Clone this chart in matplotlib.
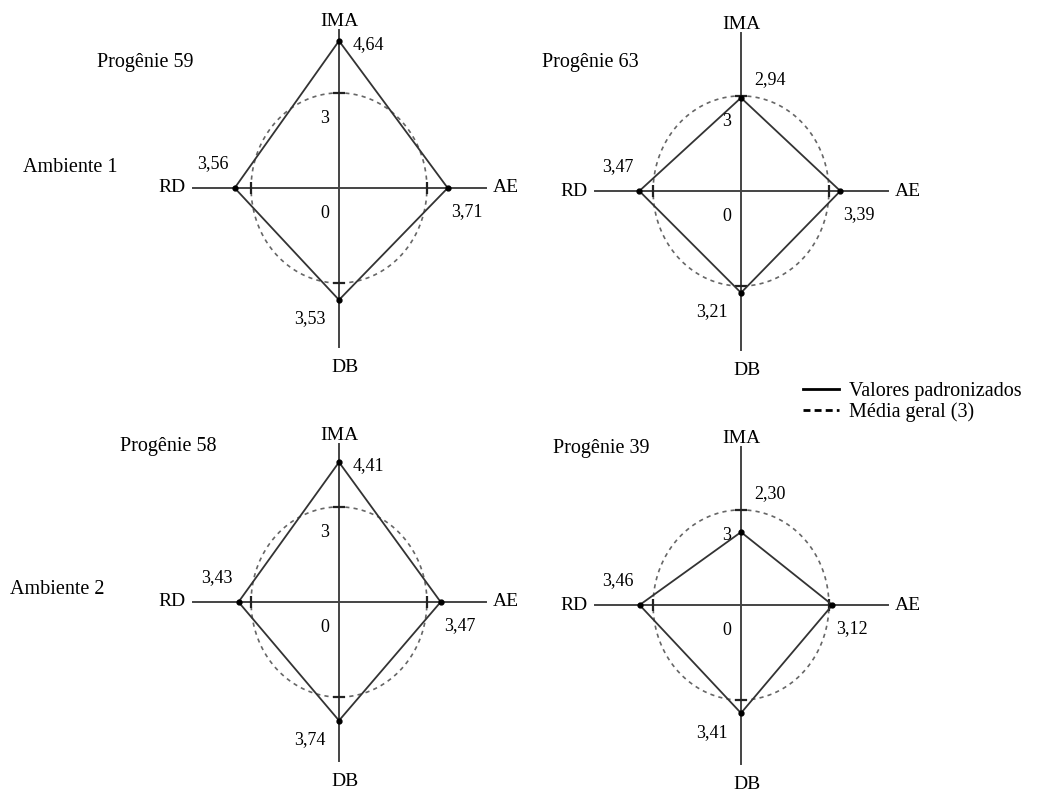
import numpy as np
import matplotlib
matplotlib.use('Agg')
import matplotlib.pyplot as plt
from matplotlib.lines import Line2D

plt.rcParams['font.family'] = ['Liberation Serif', 'DejaVu Serif']

# standardized values per progeny (IMA, AE, DB, RD)
progenies = ['Progênie 59', 'Progênie 63', 'Progênie 58', 'Progênie 39']
ambientes = ['Ambiente 1', 'Ambiente 2']
traits = ['IMA', 'AE', 'DB', 'RD']
ima = [4.64, 2.94, 4.41, 2.30]
ae = [3.71, 3.39, 3.47, 3.12]
db = [3.53, 3.21, 3.74, 3.41]
rd = [3.56, 3.47, 3.43, 3.46]
media = 3

W, H = 1040, 792
sx, sy = 29.3, 31.7          # pixels per unit
centers = [(339, 188), (741, 191), (339, 602), (741, 605)]
title_px = [(97, 62), (542, 63), (120, 446), (553, 448)]
amb_px = [(23, 167), (10, 589)]


def fmt(v):
    return ('%.2f' % v).replace('.', ',')


fig = plt.figure(figsize=(W / 100, H / 100), dpi=100)

for i in range(4):
    cx, cy = centers[i]
    w, h = 12 * sx, 12 * sy
    ax = fig.add_axes([(cx - w / 2) / W, (H - cy - h / 2) / H, w / W, h / H])
    ax.set_xlim(-6, 6)
    ax.set_ylim(-6, 6)
    ax.axis('off')

    # axes cross
    ax.plot([-5, 5], [0, 0], color='#444444', lw=1.4)
    ax.plot([0, 0], [-5, 5], color='#444444', lw=1.4)

    # mean circle
    t = np.linspace(0, 2 * np.pi, 300)
    ax.plot(media * np.cos(t), media * np.sin(t), color='#666666', lw=1.2,
            ls=(0, (2.5, 2.5)))
    ax.plot([0, 0], [media, -media], ls='none', marker='_', ms=9, mew=1.6, color='#222222')
    ax.plot([media, -media], [0, 0], ls='none', marker='|', ms=9, mew=1.6, color='#222222')

    # standardized values polygon
    xs = [0, ae[i], 0, -rd[i], 0]
    ys = [ima[i], 0, -db[i], 0, ima[i]]
    ax.plot(xs, ys, color='#333333', lw=1.3)
    ax.plot(xs[:4], ys[:4], 'o', ms=3.5, color='black')

    # axis names
    ax.text(0, 5.25, 'IMA', ha='center', va='center', fontsize=14)
    ax.text(0.2, -5.65, 'DB', ha='center', va='center', fontsize=14)
    ax.text(-5.7, 0, 'RD', ha='center', va='center', fontsize=14)
    ax.text(5.7, 0, 'AE', ha='center', va='center', fontsize=14)
    ax.text(-0.5, 2.2, '3', ha='center', va='center', fontsize=13)
    ax.text(-0.5, -0.82, '0', ha='center', va='center', fontsize=13)

    # value labels
    ax.text(1.0, max(ima[i], 3.62) - 0.12, fmt(ima[i]), ha='center', va='center', fontsize=13)
    ax.text(ae[i] + 0.65, -0.75, fmt(ae[i]), ha='center', va='center', fontsize=13)
    ax.text(-1.0, -db[i] - 0.6, fmt(db[i]), ha='center', va='center', fontsize=13)
    ax.text(-rd[i] - 0.75, 0.77, fmt(rd[i]), ha='center', va='center', fontsize=13)

    tx, ty = title_px[i]
    fig.text(tx / W, 1 - ty / H, progenies[i], ha='left', va='center', fontsize=14.5)

for j, (ax_, ay_) in enumerate(amb_px):
    fig.text(ax_ / W, 1 - ay_ / H, ambientes[j], ha='left', va='center', fontsize=14.5)

handles = [Line2D([], [], color='black', lw=2),
           Line2D([], [], color='black', lw=2, ls=(0, (2.5, 1.5)))]
fig.legend(handles, ['Valores padronizados', 'Média geral (3)'], loc='upper left',
           bbox_to_anchor=(793 / W, 1 - 372 / H), frameon=False, fontsize=14.5,
           handlelength=1.8, handletextpad=0.5, labelspacing=0.05, borderpad=0)

fig.savefig('out.png', dpi=100, facecolor='white')
